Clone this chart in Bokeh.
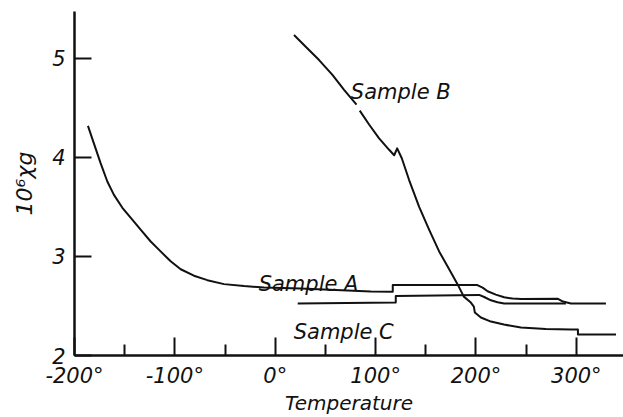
from bokeh.plotting import figure
from bokeh.models import Range1d, FixedTicker, Label
from bokeh.embed import file_html
from bokeh.resources import INLINE

nan = float("nan")

# Sample A (temperature in deg C, 10^6 chi_g)
sample_a_t = [-186.6, -180.7, -174.0, -167.3, -160.7, -152.3, -144.1, -134.1, -124.1, -114.2,
              -104.2, -94.2, -81.0, -67.6, -51.0, -31.1, -11.2, 25.4, 95.2, 117.1,
              117.1, 200.9, 206.6, 211.6, 219.8, 228.1, 236.5, 245.0, 281.7, 286.7, 294.6, 329.5]
sample_a_chi = [4.316, 4.14, 3.94, 3.755, 3.62, 3.49, 3.39, 3.27, 3.15, 3.05,
                2.95, 2.87, 2.805, 2.76, 2.72, 2.70, 2.685, 2.675, 2.645, 2.642,
                2.712, 2.712, 2.685, 2.648, 2.614, 2.587, 2.574, 2.57, 2.572, 2.544, 2.524, 2.524]

# Sample B (the drawn curve has a small gap near 82 deg)
sample_b_t = [18.7, 30.4, 43.7, 57.0, 68.6, 81.0, nan, 84.2, 93.5, 103.5, 113.5, 118.5, 121.5,
              126.1, 133.4, 143.4, 153.3, 163.3, 173.3, 182.6, 187.9, 194.9, 197.9, 198.9,
              204.9, 214.9, 227.8, 244.8, 269.7, 294.6, 301.6, 301.6, 339.5]
sample_b_chi = [5.233, 5.115, 4.98, 4.83, 4.68, 4.53, nan, 4.47, 4.33, 4.19, 4.075, 4.02, 4.09,
                3.99, 3.77, 3.50, 3.27, 3.05, 2.87, 2.70, 2.594, 2.534, 2.493, 2.433,
                2.383, 2.342, 2.312, 2.282, 2.267, 2.262, 2.262, 2.211, 2.211]

# Sample C
sample_c_t = [22.4, 95.2, 120.1, 120.1, 203.2, 208.2, 214.9, 221.5, 228.1, 289.6]
sample_c_chi = [2.524, 2.532, 2.534, 2.600, 2.611, 2.59, 2.557, 2.537, 2.524, 2.524]

x_major = [-200, -100, 0, 100, 200, 300]
x_minor = [-150, -50, 50, 150, 250]
x_labels = ["-200°", "-100°", "0°", "100°", "200°", "300°"]
y_major = [2, 3, 4, 5]

FONT = "DejaVu Sans"
INK = "#111111"

p = figure(width=623, height=417, x_range=Range1d(-200, 347), y_range=Range1d(2, 5.47),
           output_backend="svg", toolbar_location=None,
           min_border_left=74, min_border_right=0, min_border_top=11, min_border_bottom=61)
p.xgrid.visible = False
p.ygrid.visible = False
p.outline_line_color = None
p.background_fill_color = "white"
p.border_fill_color = "white"

xa = p.xaxis[0]
xa.ticker = FixedTicker(ticks=x_major, minor_ticks=x_minor)
xa.major_label_overrides = {t: l for t, l in zip(x_major, x_labels)}
xa.major_tick_in = 18
xa.major_tick_out = 0
xa.minor_tick_in = 11
xa.minor_tick_out = 0
xa.major_tick_line_width = 2
xa.minor_tick_line_width = 2
xa.major_tick_line_color = INK
xa.minor_tick_line_color = INK
xa.axis_line_width = 2.5
xa.axis_line_color = INK
xa.major_label_standoff = 8
xa.major_label_text_font = FONT
xa.major_label_text_font_style = "italic"
xa.major_label_text_font_size = "21px"
xa.major_label_text_color = INK
xa.axis_label = "Temperature"
xa.axis_label_standoff = 0
xa.axis_label_text_font = FONT
xa.axis_label_text_font_style = "italic"
xa.axis_label_text_font_size = "20px"
xa.axis_label_text_color = INK

ya = p.yaxis[0]
ya.ticker = FixedTicker(ticks=y_major, minor_ticks=[])
ya.major_tick_in = 17
ya.major_tick_out = 0
ya.minor_tick_in = 0
ya.minor_tick_out = 0
ya.major_tick_line_width = 2
ya.major_tick_line_color = INK
ya.axis_line_width = 2.5
ya.axis_line_color = INK
ya.major_label_standoff = 9
ya.major_label_text_font = FONT
ya.major_label_text_font_style = "italic"
ya.major_label_text_font_size = "21px"
ya.major_label_text_color = INK
ya.axis_label = "10⁶χg"
ya.axis_label_standoff = 12
ya.axis_label_text_font = FONT
ya.axis_label_text_font_style = "italic"
ya.axis_label_text_font_size = "22px"
ya.axis_label_text_color = INK

for xs, ys in [(sample_a_t, sample_a_chi), (sample_b_t, sample_b_chi), (sample_c_t, sample_c_chi)]:
    p.line(xs, ys, line_color=INK, line_width=2, line_join="round")

for txt, lx, ly in [("Sample A", -16.5, 2.725), ("Sample B", 75.3, 4.66), ("Sample C", 18.4, 2.242)]:
    p.add_layout(Label(x=lx, y=ly, text=txt, text_align="left", text_baseline="alphabetic",
                       text_font=FONT, text_font_style="italic", text_font_size="21px",
                       text_color=INK))

open("out.html", "w").write(file_html(p, INLINE))
